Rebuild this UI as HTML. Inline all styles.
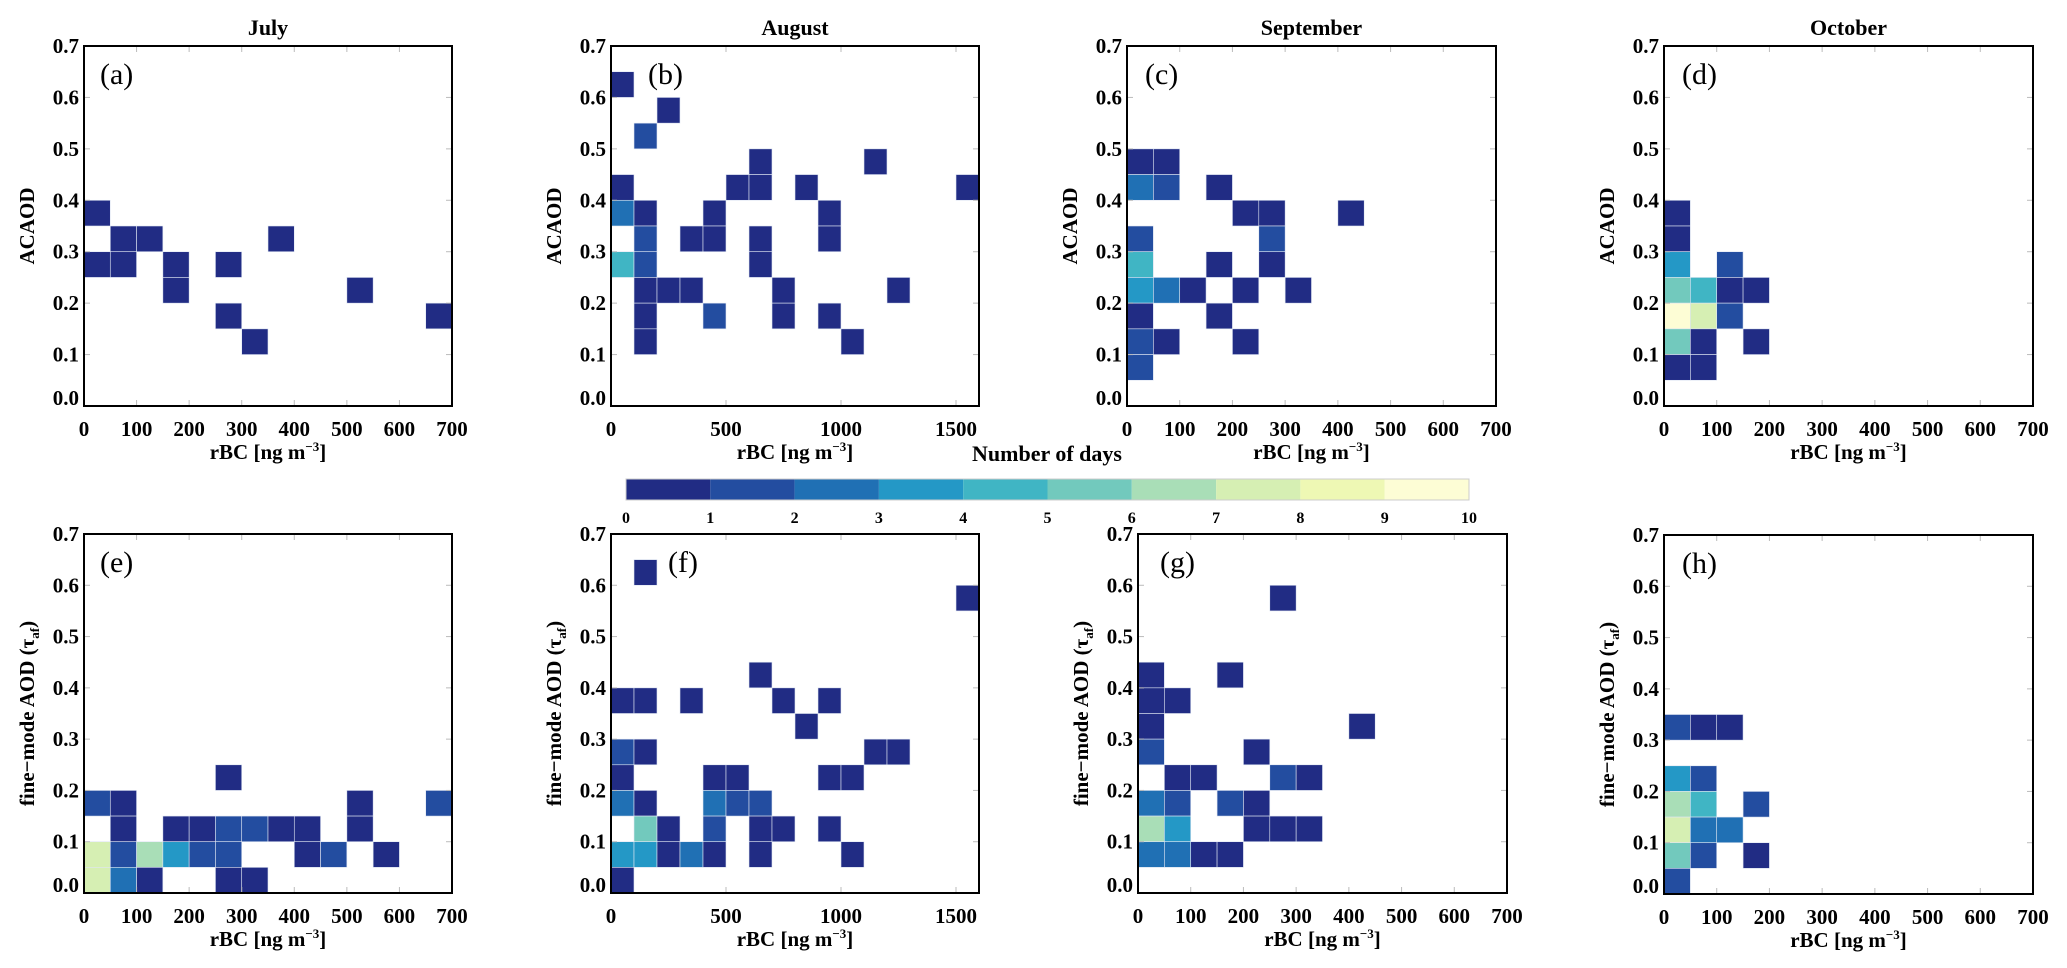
<!DOCTYPE html>
<html><head><meta charset="utf-8"><style>
html,body{margin:0;padding:0;background:#fff;}
svg{display:block;font-family:"Liberation Serif",serif;}
</style></head><body>
<svg id="fig" width="2067" height="968" viewBox="0 0 2067 968" xmlns="http://www.w3.org/2000/svg"></svg>
<script>
// Colour scale levels (number of days bins 0..10)
const cbTicks = [0,1,2,3,4,5,6,7,8,9,10];
const cbColors = ['#212c84','#234da0','#2070b4','#2498c6','#40b5c4','#72c9bd','#a9deb7','#d6efb3','#eef8b4','#fdfdd5'];

const monthTitles = ['July','August','September','October'];
const xTicks700 = [0,100,200,300,400,500,600,700];
const xTicks1600 = [0,500,1000,1500];
const yTicks = [0.0,0.1,0.2,0.3,0.4,0.5,0.6,0.7];

// [rBC bin start, AOD bin start, number of days]
const dataA = [[0,.35,1],[50,.30,1],[100,.30,1],[0,.25,1],[50,.25,1],[150,.25,1],[150,.20,1],[250,.25,1],[350,.30,1],[500,.20,1],[650,.15,1],[250,.15,1],[300,.10,1]];
const dataB = [[0,.60,1],[200,.55,1],[100,.50,2],[600,.45,1],[1100,.45,1],[0,.40,1],[500,.40,1],[600,.40,1],[800,.40,1],[1500,.40,1],[0,.35,3],[100,.35,1],[400,.35,1],[900,.35,1],[100,.30,2],[300,.30,1],[400,.30,1],[600,.30,1],[900,.30,1],[0,.25,5],[100,.25,2],[600,.25,1],[100,.20,1],[200,.20,1],[300,.20,1],[700,.20,1],[1200,.20,1],[100,.15,1],[400,.15,2],[700,.15,1],[900,.15,1],[100,.10,1],[1000,.10,1]];
const dataC = [[0,.45,1],[50,.45,1],[0,.40,3],[50,.40,2],[150,.40,1],[200,.35,1],[250,.35,1],[400,.35,1],[0,.30,2],[250,.30,2],[0,.25,5],[150,.25,1],[250,.25,1],[0,.20,4],[50,.20,3],[100,.20,1],[200,.20,1],[300,.20,1],[0,.15,1],[150,.15,1],[0,.10,2],[50,.10,1],[200,.10,1],[0,.05,2]];
const dataD = [[0,.35,1],[0,.30,1],[0,.25,4],[100,.25,2],[0,.20,6],[50,.20,5],[100,.20,1],[150,.20,1],[0,.15,10],[50,.15,8],[100,.15,2],[0,.10,6],[50,.10,1],[150,.10,1],[0,.05,1],[50,.05,1]];
const dataE = [[250,.20,1],[0,.15,2],[50,.15,1],[500,.15,1],[650,.15,2],[50,.10,1],[150,.10,1],[200,.10,1],[250,.10,2],[300,.10,2],[350,.10,1],[400,.10,1],[500,.10,1],[0,.05,8],[50,.05,2],[100,.05,7],[150,.05,4],[200,.05,2],[250,.05,2],[400,.05,1],[450,.05,2],[550,.05,1],[0,0,8],[50,0,3],[100,0,1],[250,0,1],[300,0,1]];
const dataF = [[100,.60,1],[1500,.55,1],[600,.40,1],[0,.35,1],[100,.35,1],[300,.35,1],[700,.35,1],[900,.35,1],[800,.30,1],[0,.25,2],[100,.25,1],[1100,.25,1],[1200,.25,1],[0,.20,1],[400,.20,1],[500,.20,1],[900,.20,1],[1000,.20,1],[0,.15,3],[100,.15,1],[400,.15,3],[500,.15,2],[600,.15,2],[100,.10,6],[200,.10,1],[400,.10,2],[600,.10,1],[700,.10,1],[900,.10,1],[0,.05,4],[100,.05,4],[200,.05,1],[300,.05,3],[400,.05,1],[600,.05,1],[1000,.05,1],[0,0,1]];
const dataG = [[250,.55,1],[0,.40,1],[150,.40,1],[0,.35,1],[50,.35,1],[0,.30,1],[400,.30,1],[0,.25,2],[200,.25,1],[50,.20,1],[100,.20,1],[250,.20,2],[300,.20,1],[0,.15,3],[50,.15,2],[150,.15,2],[200,.15,1],[0,.10,7],[50,.10,4],[200,.10,1],[250,.10,1],[300,.10,1],[0,.05,3],[50,.05,3],[100,.05,1],[150,.05,1]];
const dataH = [[0,.30,2],[50,.30,1],[100,.30,1],[0,.20,4],[50,.20,2],[0,.15,7],[50,.15,5],[150,.15,2],[0,.10,8],[50,.10,3],[100,.10,3],[0,.05,6],[50,.05,2],[150,.05,1],[0,0,2]];

const NS='http://www.w3.org/2000/svg';
const svg=document.getElementById('fig');
function mk(tag,attrs,parent){const e=document.createElementNS(NS,tag);for(const k in attrs)e.setAttribute(k,attrs[k]);(parent||svg).appendChild(e);return e;}
function colorFor(n){return cbColors[Math.max(0,Math.min(9,Math.ceil(n)-1))];}

const panels=[
 {id:'a',data:dataA,x0:84,x1:452,y0:46,y1:406,xmax:700,xbin:50,xt:xTicks700,ylab:'ACAOD',row:0,lo:16},
 {id:'b',data:dataB,x0:611,x1:979,y0:46,y1:406,xmax:1600,xbin:100,xt:xTicks1600,ylab:'ACAOD',row:0,lo:37},
 {id:'c',data:dataC,x0:1127,x1:1496,y0:46,y1:406,xmax:700,xbin:50,xt:xTicks700,ylab:'ACAOD',row:0,lo:18},
 {id:'d',data:dataD,x0:1664,x1:2033,y0:46,y1:406,xmax:700,xbin:50,xt:xTicks700,ylab:'ACAOD',row:0,lo:18},
 {id:'e',data:dataE,x0:84,x1:452,y0:534,y1:893,xmax:700,xbin:50,xt:xTicks700,ylab:'fine',row:1,lo:16},
 {id:'f',data:dataF,x0:611,x1:979,y0:534,y1:893,xmax:1600,xbin:100,xt:xTicks1600,ylab:'fine',row:1,lo:57},
 {id:'g',data:dataG,x0:1138,x1:1507,y0:534,y1:893,xmax:700,xbin:50,xt:xTicks700,ylab:'fine',row:1,lo:22},
 {id:'h',data:dataH,x0:1664,x1:2033,y0:535,y1:894,xmax:700,xbin:50,xt:xTicks700,ylab:'fine',row:1,lo:18}
];

panels.forEach((p,pi)=>{
  const g=mk('g',{});
  
  
  const sx=v=>p.x0+(v/p.xmax)*(p.x1-p.x0);
  const sy=v=>p.y1-(v/0.7)*(p.y1-p.y0);
  p.data.forEach(d=>{
    const r=mk('rect',{x:sx(d[0]),y:sy(d[1]+0.05),width:sx(d[0]+p.xbin)-sx(d[0]),height:sy(d[1])-sy(d[1]+0.05),fill:colorFor(d[2]),stroke:'#dfe6f2','stroke-width':0.6},g);
    
    
  });
  p.xt.forEach(t=>{
    const x=sx(t);
    mk('line',{x1:x,y1:p.y1,x2:x,y2:p.y1-6,stroke:'#bbb','stroke-width':1},g);
    mk('line',{x1:x,y1:p.y0,x2:x,y2:p.y0+6,stroke:'#bbb','stroke-width':1},g);
    const tl=mk('text',{x:x,y:p.y1+30,'text-anchor':'middle','font-size':21,'font-weight':'bold',fill:'#000'},g);
    tl.textContent=t;
    
    
  });
  yTicks.forEach(t=>{
    const y=sy(t);
    mk('line',{x1:p.x0,y1:y,x2:p.x0+6,y2:y,stroke:'#bbb','stroke-width':1},g);
    mk('line',{x1:p.x1,y1:y,x2:p.x1-6,y2:y,stroke:'#bbb','stroke-width':1},g);
    const tl=mk('text',{x:p.x0-5,y:(t===0?y-1:y+7),'text-anchor':'end','font-size':21,'font-weight':'bold',fill:'#000'},g);
    tl.textContent=t.toFixed(1);
    
    
  });
  const fr=mk('rect',{x:p.x0,y:p.y0,width:p.x1-p.x0,height:p.y1-p.y0,fill:'none',stroke:'#000','stroke-width':2},g);
  
  
  const pl=mk('text',{x:p.x0+p.lo,y:p.y0+38,'font-size':30,fill:'#000'},g);
  pl.textContent='('+p.id+')';
  
  
  const cx=(p.x0+p.x1)/2;
  const xl=mk('text',{x:cx,y:p.y1+53,'text-anchor':'middle','font-size':21,'font-weight':'bold',fill:'#000'},g);
  xl.innerHTML='rBC [ng m<tspan dy="-8" font-size="13">−3</tspan><tspan dy="8">]</tspan>';
  
  
  const cy=(p.y0+p.y1)/2;
  const yl=mk('text',{x:0,y:0,'text-anchor':'middle','font-size':21,'font-weight':'bold',fill:'#000',transform:'translate('+(p.x0-50)+','+cy+') rotate(-90)'},g);
  if(p.ylab==='ACAOD'){yl.textContent='ACAOD';}
  else{yl.innerHTML='fine−mode AOD (τ<tspan dy="5" font-size="13">af</tspan><tspan dy="-5">)</tspan>';}
  
  
  if(p.row===0){
    const mt=mk('text',{x:cx,y:35,'text-anchor':'middle','font-size':22,'font-weight':'bold',fill:'#000'},g);
    mt.textContent=monthTitles[pi];
    
    
  }
});

const cb=mk('g',{});


const cbx0=626,cbx1=1469,cby0=479,cby1=500;
const cbs=v=>cbx0+(v/10)*(cbx1-cbx0);
cbColors.forEach((c,i)=>{
  const r=mk('rect',{x:cbs(cbTicks[i]),y:cby0,width:cbs(cbTicks[i+1])-cbs(cbTicks[i]),height:cby1-cby0,fill:c},cb);
  
  
});
mk('rect',{x:cbx0,y:cby0,width:cbx1-cbx0,height:cby1-cby0,fill:'none',stroke:'#ccc','stroke-width':1},cb);
cbTicks.forEach(t=>{
  const tl=mk('text',{x:cbs(t),y:523,'text-anchor':'middle','font-size':16,'font-weight':'bold',fill:'#000'},cb);
  tl.textContent=t;
  
  
});
const cbt=mk('text',{x:1047,y:461,'text-anchor':'middle','font-size':22,'font-weight':'bold',fill:'#000'},cb);
cbt.textContent='Number of days';


</script>
</body></html>
